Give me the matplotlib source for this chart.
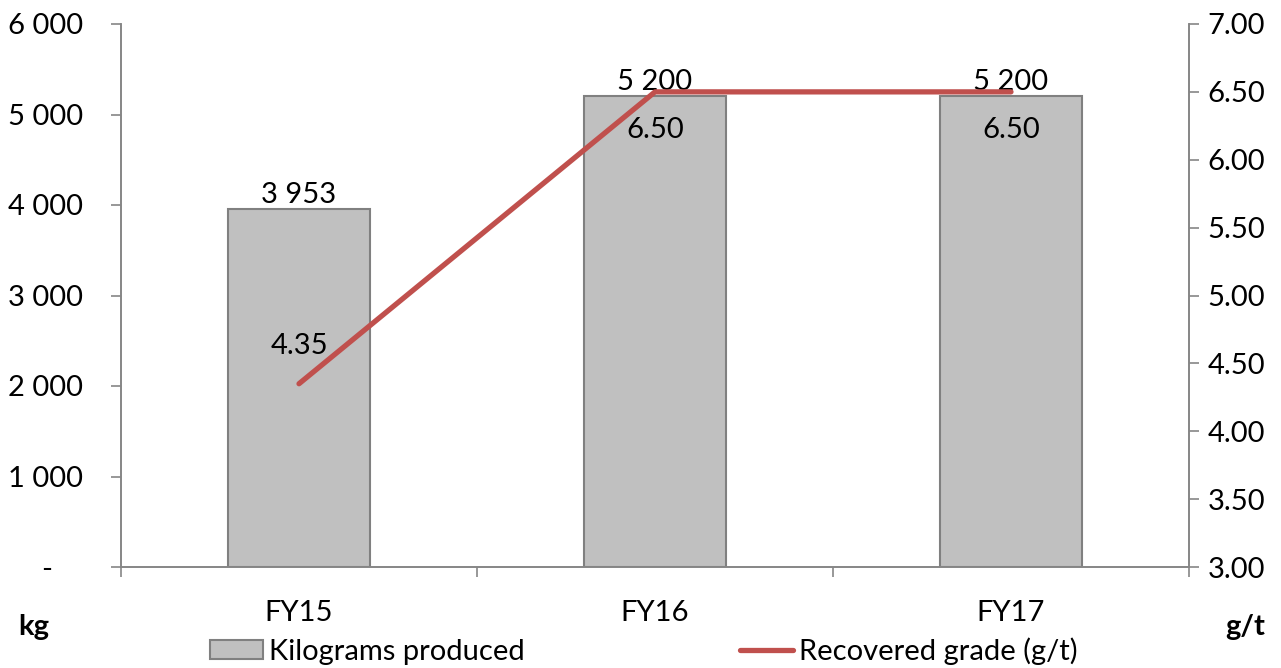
import matplotlib
matplotlib.use("Agg")
from matplotlib import pyplot as plt
from matplotlib.ticker import FuncFormatter
from matplotlib.patches import Patch
from matplotlib.lines import Line2D
import numpy as np

years = ["FY15", "FY16", "FY17"]
kilograms = [3953, 5200, 5200]
grade = [4.35, 6.50, 6.50]

plt.rcParams['font.family'] = ['Lato', 'DejaVu Sans']
FS = 21
GRID = '#868686'
BAR = '#C0C0C0'
BAR_EDGE = '#808080'
RED = '#C0504D'

fig = plt.figure(figsize=(12.81, 6.68), dpi=100)
ax = fig.add_axes([121/1281, 1-567/668, (1189-121)/1281, (567-24)/668])
ax2 = ax.twinx()

x = np.arange(len(years))
ax.bar(x, kilograms, width=0.4, color=BAR, edgecolor=BAR_EDGE, linewidth=1.5)
for xi, v in zip(x, kilograms):
    ax.annotate(f"{v:,}".replace(",", " "), (xi, v), xytext=(0, 1), textcoords='offset points',
                ha='center', va='bottom', fontsize=FS)

ax2.plot(x, grade, color=RED, linewidth=3.8, solid_capstyle='round')
offs = [18, -18, -18]
for xi, v, o in zip(x, grade, offs):
    ax2.annotate(f"{v:.2f}", (xi, v), xytext=(0, o), textcoords='offset points',
                 ha='center', va='bottom' if o > 0 else 'top', fontsize=FS)

ax.set_xlim(-0.5, 2.5)
ax.set_ylim(0, 6000)
ax2.set_ylim(3, 7)
ax.set_yticks(np.arange(0, 6001, 1000))
ax2.set_yticks(np.arange(3, 7.01, 0.5))
ax.yaxis.set_major_formatter(FuncFormatter(lambda v, p: "-    " if v == 0 else f"{int(v):,}".replace(",", " ")))
ax2.yaxis.set_major_formatter(FuncFormatter(lambda v, p: f"{v:.2f}"))

ax.set_xticks([-0.5, 0.5, 1.5, 2.5])
ax.set_xticklabels([])
ax.set_xticks(x, minor=True)
ax.set_xticklabels(years, minor=True)
ax.tick_params(axis='x', which='minor', length=0, pad=24, labelsize=FS)
ax.tick_params(axis='x', which='major', length=7.5, width=1.2, color=GRID)
ax.tick_params(axis='y', length=7.5, width=1.2, color=GRID, labelsize=FS, pad=20)
ax2.tick_params(axis='y', length=7.5, width=1.2, color=GRID, labelsize=FS, pad=6)
for a in (ax, ax2):
    a.spines['top'].set_visible(False)
    for s in ('left', 'right', 'bottom'):
        a.spines[s].set_color(GRID)
        a.spines[s].set_linewidth(1.2)

fig.text(18/1281, 1-627/668, "kg", fontsize=FS, fontweight='bold', va='center', ha='left')
fig.text(1265/1281, 1-627/668, "g/t", fontsize=FS, fontweight='bold', va='center', ha='right')

handles = [Patch(facecolor=BAR, edgecolor=BAR_EDGE, linewidth=1.5),
           Line2D([0], [0], color=RED, linewidth=3.8, solid_capstyle='round')]
fig.legend(handles, ["Kilograms produced", "Recovered grade (g/t)"], loc='center',
           bbox_to_anchor=(0.5025, 1-651/668), ncol=2, frameon=False, fontsize=FS,
           handlelength=1.8, handleheight=0.6, handletextpad=0.2, columnspacing=7.4,
           borderpad=0, borderaxespad=0)

fig.savefig("out.png", dpi=100)
